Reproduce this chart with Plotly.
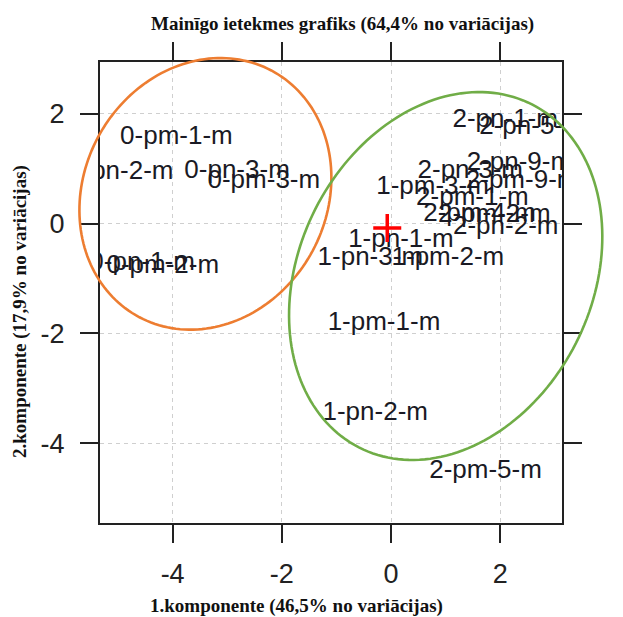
import numpy as np
import plotly.graph_objects as go

# ---- data ----
labels = ["0-pm-1-m", "0-pn-2-m", "0-pn-3-m", "0-pm-3-m", "0-pn-1-m", "0-pm-2-m",
          "2-pn-1-m", "2-pn-5-m", "2-pn-9-m", "2-pn-3-m", "2-pm-9-m", "1-pm-3-m",
          "2-pm-1-m", "2-pm-4-m", "2-pm-2-m", "2-pn-2-m",
          "1-pn-1-m", "1-pn-3-m", "1-pm-2-m", "1-pm-1-m", "1-pn-2-m", "2-pm-5-m"]
pc1 = [-3.93, -4.95, -2.82, -2.33, -4.56, -4.18,
       2.09, 2.58, 2.35, 1.45, 2.40, 0.76,
       1.49, 1.62, 1.89, 2.10,
       0.18, -0.38, 1.04, -0.13, -0.29, 1.73]
pc2 = [1.57, 0.92, 0.94, 0.77, -0.72, -0.79,
       1.88, 1.75, 1.10, 0.94, 0.77, 0.65,
       0.46, 0.17, 0.15, -0.08,
       -0.30, -0.63, -0.63, -1.81, -3.45, -4.52]
centre = [-0.07, -0.08]
x_ticks = [-4, -2, 0, 2]
x_ticktext = ["-4", "-2", "0", "2"]
y_ticks = [-4, -2, 0, 2]
y_ticktext = ["-4", "-2", "0", "2"]
x_range = [-5.33, 3.13]
y_range = [-5.45, 2.94]

# group ellipses: centre x, centre y, semi-major, semi-minor, tilt (deg from vertical)
ellipses = [
    dict(cx=-3.40, cy=0.54, a=2.55, b=2.22, phi=30, color="#ED7D31"),
    dict(cx=1.00, cy=-0.955, a=3.50, b=2.68, phi=27, color="#70AD47"),
]

title = "Mainīgo ietekmes grafiks (64,4% no variācijas)"
xtitle = "1.komponente (46,5% no variācijas)"
ytitle = "2.komponente (17,9% no variācijas)"

fig = go.Figure()
fig.add_trace(go.Scatter(
    x=pc1, y=pc2, text=labels, mode="text", textposition="middle center",
    textfont=dict(family="Liberation Sans, Arial", size=26, color="#1a1a24"),
    cliponaxis=True, hoverinfo="text", showlegend=False))
fig.add_trace(go.Scatter(
    x=[centre[0]], y=[centre[1]], mode="markers",
    marker=dict(symbol="cross-thin", size=20, line=dict(color="#ff0000", width=3.5)),
    showlegend=False))


def to_paper(x, y):
    px = (x - x_range[0]) / (x_range[1] - x_range[0])
    py = (y - y_range[0]) / (y_range[1] - y_range[0])
    return px, py


for e in ellipses:
    t = np.linspace(0, 2 * np.pi, 181)
    ph = np.deg2rad(e["phi"])
    u = e["a"] * np.cos(t)
    v = e["b"] * np.sin(t)
    xs = e["cx"] + u * np.sin(ph) + v * np.cos(ph)
    ys = e["cy"] + u * np.cos(ph) - v * np.sin(ph)
    px, py = to_paper(xs, ys)
    path = "M " + " L ".join(f"{a:.5f},{b:.5f}" for a, b in zip(px, py)) + " Z"
    fig.add_shape(type="path", path=path, xref="paper", yref="paper",
                  line=dict(color=e["color"], width=2.6), layer="above")

axis_common = dict(
    showline=True, linecolor="#222", linewidth=2, mirror="ticks",
    ticks="outside", ticklen=18, tickwidth=2, tickcolor="#222",
    showgrid=True, gridcolor="#cfcfcf", griddash="4px,4px", gridwidth=1.2,
    zeroline=False,
    tickfont=dict(family="Liberation Sans, Arial", size=27, color="#222"),
)
fig.update_xaxes(range=x_range, tickvals=x_ticks, ticktext=x_ticktext,
                 ticklabelstandoff=8, **axis_common)
fig.update_yaxes(range=y_range, tickvals=y_ticks, ticktext=y_ticktext,
                 ticklabelstandoff=10, **axis_common)

serif = dict(family="Liberation Serif, Times New Roman", size=19, color="#111")
fig.add_annotation(text=f"<b>{title}</b>", xref="paper", yref="paper",
                   x=(342 - 100) / 462, y=1 + (62 - 24) / 461, showarrow=False,
                   font=serif, xanchor="center", yanchor="middle")
fig.add_annotation(text=f"<b>{xtitle}</b>", xref="paper", yref="paper",
                   x=(296 - 100) / 462, y=-(606 - 523) / 461, showarrow=False,
                   font=serif, xanchor="center", yanchor="middle")
fig.add_annotation(text=f"<b>{ytitle}</b>", xref="paper", yref="paper",
                   x=-(100 - 20) / 462, y=1 - (312 - 62) / 461, showarrow=False,
                   font=serif, textangle=-90, xanchor="center", yanchor="middle")

fig.update_layout(
    width=623, height=617, margin=dict(l=100, r=61, t=62, b=94),
    plot_bgcolor="white", paper_bgcolor="white",
)
fig.write_html("out.html")
